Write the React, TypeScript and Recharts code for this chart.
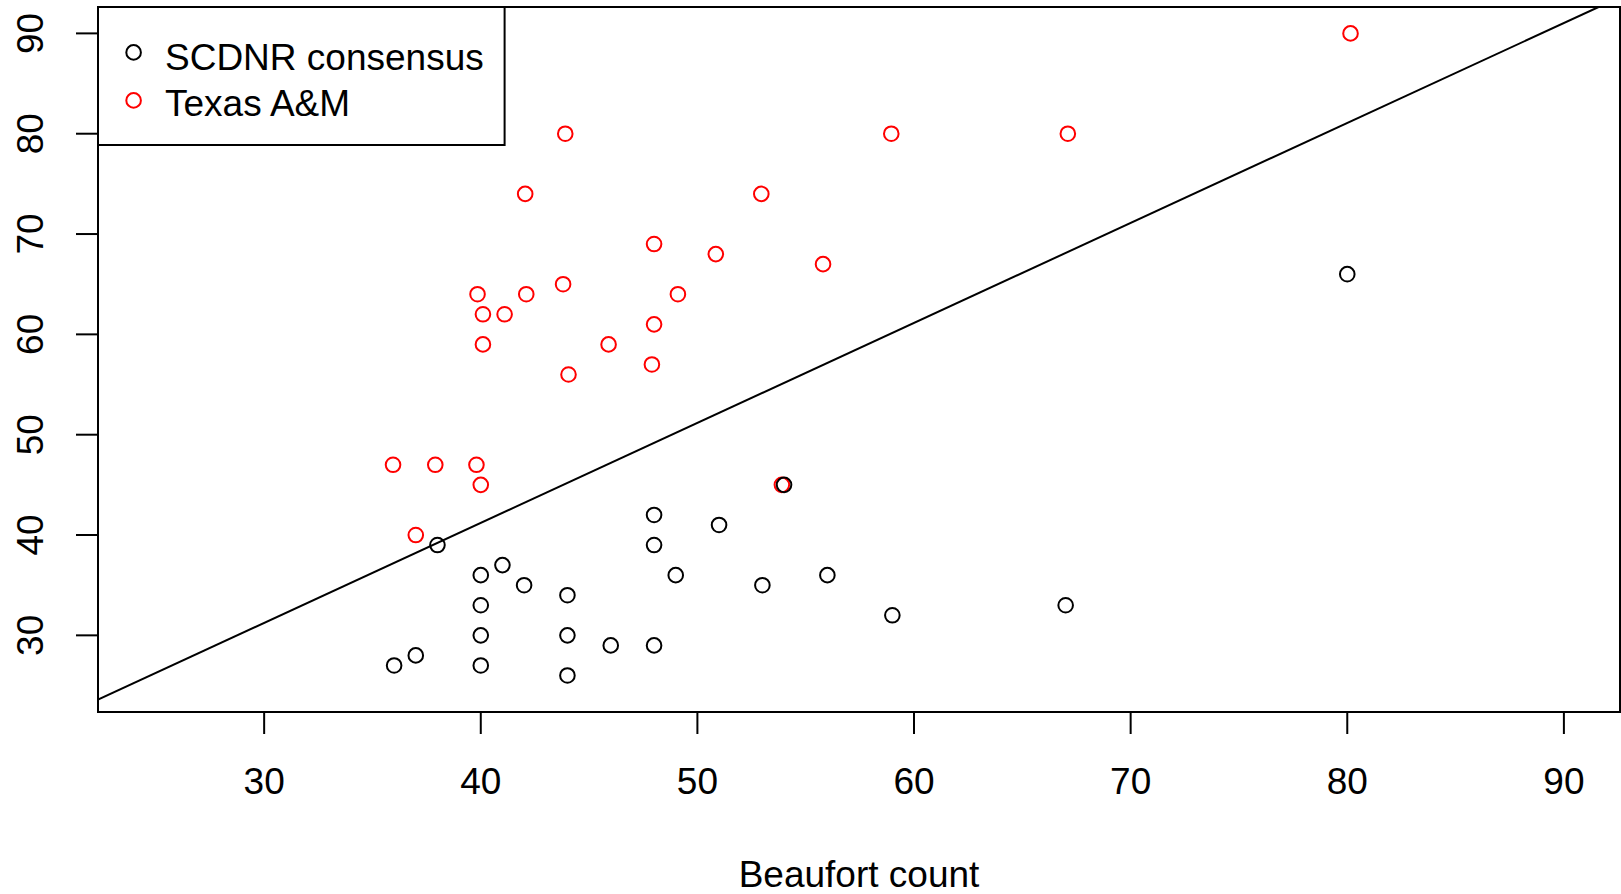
import React from 'react';
import { ScatterChart, Scatter, XAxis, YAxis, ReferenceArea, Legend } from 'recharts';

// ---- data ----
const scdnrX = [36, 37, 38, 40, 40, 40, 40, 41, 42, 44, 44, 44, 46, 48, 48, 48, 49, 51, 53, 54, 56, 59, 67, 80];
const scdnrY = [27, 28, 39, 36, 33, 30, 27, 37, 35, 34, 30, 26, 29, 42, 39, 29, 36, 41, 35, 45, 36, 32, 33, 66];

const texasX = [35.95, 37, 37.9, 39.8, 40, 39.85, 40.1, 40.1, 41.1, 42.05, 42.1, 43.8, 43.9, 44.05, 45.9, 47.9, 48, 48, 49.1, 50.85, 52.95, 53.9, 55.8, 58.95, 67.1, 80.15];
const texasY = [47, 40, 47, 47, 45, 64, 62, 59, 62, 74, 64, 65, 80, 56, 59, 57, 61, 69, 64, 68, 74, 45, 67, 80, 80, 90];

const xTicks = [30, 40, 50, 60, 70, 80, 90];
const yTicks = [30, 40, 50, 60, 70, 80, 90];

const seriesNames = ['SCDNR consensus', 'Texas A&M'];
const seriesColors = ['#000000', '#ff0000'];

const fitIntercept = 1.35;
const fitSlope = 0.9965;

const xLabel = 'Beaufort count';

// ---- layout ----
const X_DOMAIN: [number, number] = [22.33, 92.59];
const Y_DOMAIN: [number, number] = [22.36, 92.63];
const FONT = '"Liberation Sans", Arial, sans-serif';
const FS = 37;

const scdnrData = scdnrX.map((x, i) => ({ x, y: scdnrY[i] }));
const texasData = texasX.map((x, i) => ({ x, y: texasY[i] }));
const fitData = [
  { x: X_DOMAIN[0], y: fitIntercept + fitSlope * X_DOMAIN[0] },
  { x: (Y_DOMAIN[1] - fitIntercept) / fitSlope, y: Y_DOMAIN[1] },
];

const makeCircle = (color: string) => (props: any) => {
  const { cx, cy } = props;
  if (cx == null || cy == null) return <g />;
  return <circle cx={cx} cy={cy} r={7.3} fill="none" stroke={color} strokeWidth={2} />;
};

const XTick = (props: any) => {
  const { x, y, payload } = props;
  return (
    <text x={x} y={y + 59.5} textAnchor="middle" fontFamily={FONT} fontSize={FS} fill="#000">
      {payload.value}
    </text>
  );
};

const YTick = (props: any) => {
  const { x, y, payload } = props;
  const bx = x - 33;
  return (
    <text
      x={bx}
      y={y}
      transform={`rotate(-90, ${bx}, ${y})`}
      textAnchor="middle"
      fontFamily={FONT}
      fontSize={FS}
      fill="#000"
    >
      {payload.value}
    </text>
  );
};

const XLabel = (props: any) => {
  const vb = props.viewBox || {};
  return (
    <text
      x={vb.x + vb.width / 2}
      y={vb.y + 174.7}
      textAnchor="middle"
      fontFamily={FONT}
      fontSize={FS}
      fill="#000"
    >
      {xLabel}
    </text>
  );
};

const LegendBox = () => (
  <svg width={410} height={142} style={{ display: 'block' }}>
    <rect x={1} y={1} width={406.6} height={138} fill="#fff" stroke="#000" strokeWidth={2} />
    {seriesNames.map((name, i) => (
      <g key={name}>
        <circle cx={36.6} cy={46.4 + i * 48} r={7.3} fill="none" stroke={seriesColors[i]} strokeWidth={2} />
        <text x={68} y={63.7 + i * 46} fontFamily={FONT} fontSize={FS} fill="#000">
          {name}
        </text>
      </g>
    ))}
  </svg>
);

export default function App() {
  return (
    <div style={{ position: 'absolute', left: 0, top: 0, background: '#fff' }}>
      <ScatterChart width={1621} height={894} margin={{ top: 7, right: 1, bottom: 0, left: 0 }}>
        <XAxis
          type="number"
          dataKey="x"
          domain={X_DOMAIN}
          allowDataOverflow
          ticks={xTicks}
          interval={0}
          height={182}
          tickSize={22}
          tickMargin={0}
          axisLine={false}
          tickLine={{ stroke: '#000', strokeWidth: 2 }}
          tick={<XTick />}
          label={<XLabel />}
        />
        <YAxis
          type="number"
          dataKey="y"
          domain={Y_DOMAIN}
          allowDataOverflow
          ticks={yTicks}
          interval={0}
          width={98}
          tickSize={22}
          tickMargin={0}
          axisLine={false}
          tickLine={{ stroke: '#000', strokeWidth: 2 }}
          tick={<YTick />}
        />
        <ReferenceArea
          x1={X_DOMAIN[0]}
          x2={X_DOMAIN[1]}
          y1={Y_DOMAIN[0]}
          y2={Y_DOMAIN[1]}
          fill="none"
          fillOpacity={0}
          stroke="#000"
          strokeWidth={2}
          ifOverflow="visible"
        />
        <Scatter
          name="fit"
          data={fitData}
          line={{ stroke: '#000', strokeWidth: 2 }}
          shape={() => <g />}
          legendType="none"
          isAnimationActive={false}
        />
        <Scatter
          name={seriesNames[1]}
          data={texasData}
          shape={makeCircle(seriesColors[1])}
          isAnimationActive={false}
        />
        <Scatter
          name={seriesNames[0]}
          data={scdnrData}
          shape={makeCircle(seriesColors[0])}
          isAnimationActive={false}
        />
        <Legend
          layout="vertical"
          align="center"
          verticalAlign="middle"
          content={<LegendBox />}
          wrapperStyle={{ position: 'absolute', left: 96.7, top: 6.3, width: 410, height: 142, transform: 'none' }}
        />
      </ScatterChart>
    </div>
  );
}
